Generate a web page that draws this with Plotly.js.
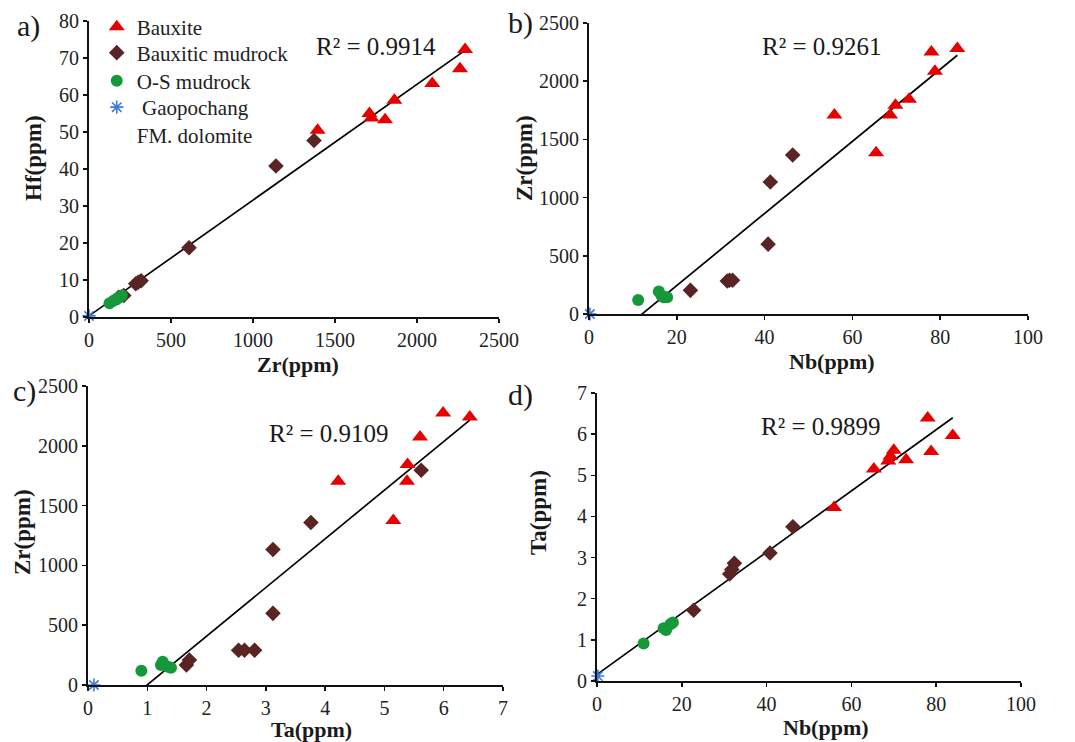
<!DOCTYPE html>
<html>
<head>
<meta charset="utf-8">
<script src="https://cdn.plot.ly/plotly-3.0.1.min.js"></script>
<style>html,body{margin:0;padding:0;background:#fff;}#chart{width:1075px;height:742px;}</style>
</head>
<body>
<div id="chart"></div>
<script>
// ---------- Data ----------
var seriesNames = ["Bauxite", "Bauxitic mudrock", "O-S mudrock", "\u00a0Gaopochang<br>FM. dolomite"];

// Panel a: Zr (x) vs Hf (y)
var aBauxZr = [2293, 2262, 2093, 1862, 1805, 1710, 1722, 1394];
var aBauxHf = [72.3, 67.1, 63.1, 58.6, 53.3, 55.0, 53.8, 50.5];
var aMudZr = [1372, 1140, 610, 285, 300, 318, 212, 180];
var aMudHf = [47.7, 40.8, 18.7, 9.0, 9.4, 9.8, 5.8, 5.3];
var aOsZr = [125, 150, 165, 185, 200];
var aOsHf = [3.7, 4.4, 4.8, 5.3, 5.8];
var aDolZr = [0];
var aDolHf = [0.3];

// Panel b: Nb (x) vs Zr (y)
var bBauxNb = [83.9, 78.0, 78.8, 72.9, 69.8, 68.6, 55.9, 65.4];
var bBauxZr = [2280, 2251, 2086, 1846, 1794, 1709, 1709, 1386];
var bMudNb = [46.4, 41.3, 40.8, 31.5, 32.0, 32.7, 23.1];
var bMudZr = [1366, 1134, 600, 284, 290, 290, 203];
var bOsNb = [11.2, 15.9, 16.5, 17.0, 17.8];
var bOsZr = [120, 194, 160, 143, 143];
var bDolNb = [0.2];
var bDolZr = [0];

// Panel c: Ta (x) vs Zr (y)
var cBauxTa = [5.99, 6.44, 5.60, 5.39, 5.38, 4.22, 5.15];
var cBauxZr = [2275, 2241, 2074, 1843, 1704, 1704, 1375];
var cMudTa = [3.76, 3.12, 3.12, 2.54, 2.64, 2.81, 1.66, 1.71, 5.62];
var cMudZr = [1359, 1133, 599, 290, 290, 290, 167, 209, 1796];
var cOsTa = [0.90, 1.26, 1.23, 1.35, 1.40];
var cOsZr = [120, 195, 167, 153, 145];
var cDolTa = [0.1];
var cDolZr = [0];

// Panel d: Nb (x) vs Ta (y)
var dBauxNb = [78.0, 83.9, 78.8, 70.0, 69.2, 68.7, 72.9, 65.3, 55.9];
var dBauxTa = [6.39, 5.97, 5.58, 5.61, 5.46, 5.35, 5.38, 5.15, 4.22];
var dMudNb = [46.2, 40.8, 32.4, 31.8, 31.3, 22.8];
var dMudTa = [3.75, 3.11, 2.86, 2.71, 2.60, 1.72];
var dOsNb = [11.0, 15.7, 16.3, 17.3, 17.9];
var dOsTa = [0.91, 1.28, 1.24, 1.38, 1.42];
var dDolNb = [0.2];
var dDolTa = [0.12];

var r2Labels = ["R\u00b2 = 0.9914", "R\u00b2 = 0.9261", "R\u00b2 = 0.9109", "R\u00b2 = 0.9899"];
var panelLabels = ["a)", "b)", "c)", "d)"];
var xTitles = ["Zr(ppm)", "Nb(ppm)", "Ta(ppm)", "Nb(ppm)"];
var yTitles = ["Hf(ppm)", "Zr(ppm)", "Zr(ppm)", "Ta(ppm)"];

// ---------- Helpers ----------
function linfit(xs, ys) {
  var n = xs.length, sx = 0, sy = 0, sxx = 0, sxy = 0;
  for (var i = 0; i < n; i++) { sx += xs[i]; sy += ys[i]; sxx += xs[i]*xs[i]; sxy += xs[i]*ys[i]; }
  var b = (n*sxy - sx*sy) / (n*sxx - sx*sx);
  var a = (sy - b*sx) / n;
  var mn = Math.min.apply(null, xs), mx = Math.max.apply(null, xs);
  return {x: [mn, mx], y: [a + b*mn, a + b*mx]};
}
function cat() { var r = []; for (var i = 0; i < arguments.length; i++) r = r.concat(arguments[i]); return r; }

var W = 1075, H = 742;
function dx(p0, p1) { return [p0 / W, p1 / W]; }
function dy(top, bot) { return [1 - bot / H, 1 - top / H]; }
function px(x) { return x / W; }
function py(y) { return 1 - y / H; }

var FONT = "Liberation Serif, Times New Roman, serif";
var cBaux = "#e60000", cMud = "#5a2424", cOs = "#13993a", cDol = "#3d7ad6";

var markers = [
  {symbol: "triangle-up", size: 14, color: cBaux},
  {symbol: "diamond", size: 12, color: cMud},
  {symbol: "circle", size: 12, color: cOs},
  {symbol: "asterisk-open", size: 11, color: cDol, line: {color: cDol, width: 1.6}}
];
var legendIds = ["legend", "legend2", "legend3", "legend4"];

var panels = [
  {xa: "x", ya: "y", sets: [[aBauxZr, aBauxHf], [aMudZr, aMudHf], [aOsZr, aOsHf], [aDolZr, aDolHf]], legend: true},
  {xa: "x2", ya: "y2", sets: [[bBauxNb, bBauxZr], [bMudNb, bMudZr], [bOsNb, bOsZr], [bDolNb, bDolZr]]},
  {xa: "x3", ya: "y3", sets: [[cBauxTa, cBauxZr], [cMudTa, cMudZr], [cOsTa, cOsZr], [cDolTa, cDolZr]]},
  {xa: "x4", ya: "y4", sets: [[dBauxNb, dBauxTa], [dMudNb, dMudTa], [dOsNb, dOsTa], [dDolNb, dDolTa]]}
];

var traces = [];
panels.forEach(function(p) {
  var fx = cat(p.sets[0][0], p.sets[1][0], p.sets[2][0], p.sets[3][0]);
  var fy = cat(p.sets[0][1], p.sets[1][1], p.sets[2][1], p.sets[3][1]);
  var f = linfit(fx, fy);
  traces.push({type: "scatter", mode: "lines", x: f.x, y: f.y, xaxis: p.xa, yaxis: p.ya,
    line: {color: "#000", width: 1.7}, showlegend: false, hoverinfo: "skip"});
  p.sets.forEach(function(s, si) {
    traces.push({type: "scatter", mode: "markers", x: s[0], y: s[1], xaxis: p.xa, yaxis: p.ya,
      name: seriesNames[si], marker: markers[si], showlegend: !!p.legend, legend: legendIds[si],
      cliponaxis: false});
  });
});

function axis(dom, range, dtick, anchor) {
  return {
    domain: dom, range: range, dtick: dtick, tick0: 0, anchor: anchor,
    showgrid: false, zeroline: false, showline: true, linecolor: "#111", linewidth: 2,
    ticks: "outside", ticklen: 4, tickwidth: 1.5, tickcolor: "#111",
    tickfont: {family: FONT, size: 20, color: "#222"},
    fixedrange: true
  };
}
function leg(yc, anchor) {
  return {x: 0.09, y: py(yc), xanchor: "left", yanchor: anchor, bgcolor: "rgba(0,0,0,0)",
    font: {family: FONT, size: 21, color: "#222"}, valign: "top", itemwidth: 30};
}

var layout = {
  width: W, height: H,
  margin: {l: 0, r: 0, t: 0, b: 0},
  paper_bgcolor: "#fff", plot_bgcolor: "rgba(0,0,0,0)",
  showlegend: true,
  legend: leg(27, "middle"),
  legend2: leg(53, "middle"),
  legend3: leg(81, "middle"),
  legend4: leg(121, "middle"),
  xaxis: axis(dx(89, 499), [0, 2500], 500, "y"),
  yaxis: axis(dy(21, 317), [0, 80], 10, "x"),
  xaxis2: axis(dx(589, 1028), [0, 100], 20, "y2"),
  yaxis2: axis(dy(23, 314), [0, 2500], 500, "x2"),
  xaxis3: axis(dx(88, 503), [0, 7], 1, "y3"),
  yaxis3: axis(dy(386, 685), [0, 2500], 500, "x3"),
  xaxis4: axis(dx(597, 1021), [0, 100], 20, "y4"),
  yaxis4: axis(dy(393, 681), [0, 7], 1, "x4"),
  annotations: []
};

function note(t, x, y, size, extra) {
  var a = {text: t, xref: "paper", yref: "paper", x: px(x), y: py(y), xanchor: "center", yanchor: "middle",
    showarrow: false, borderpad: 0, font: {family: FONT, size: size, color: "#1a1a1a"}};
  for (var k in (extra || {})) a[k] = extra[k];
  layout.annotations.push(a);
}

var r2Pos = [[376, 47], [822, 47], [329, 433], [821, 426]];
r2Labels.forEach(function(t, i) { note(t, r2Pos[i][0], r2Pos[i][1], 25); });
var labPos = [[28, 26], [520, 23], [24, 391], [520, 395]];
panelLabels.forEach(function(t, i) { note(t, labPos[i][0], labPos[i][1], 30); });
var xtPos = [[298, 364], [832, 361], [311, 729], [826, 727]];
xTitles.forEach(function(t, i) { note("<b>" + t + "</b>", xtPos[i][0], xtPos[i][1], 22); });
var ytPos = [[33, 158], [524, 158], [22, 532], [538, 513]];
yTitles.forEach(function(t, i) { note("<b>" + t + "</b>", ytPos[i][0], ytPos[i][1], 23, {textangle: -90}); });

Plotly.newPlot("chart", traces, layout, {staticPlot: true, displayModeBar: false});
</script>
</body>
</html>
